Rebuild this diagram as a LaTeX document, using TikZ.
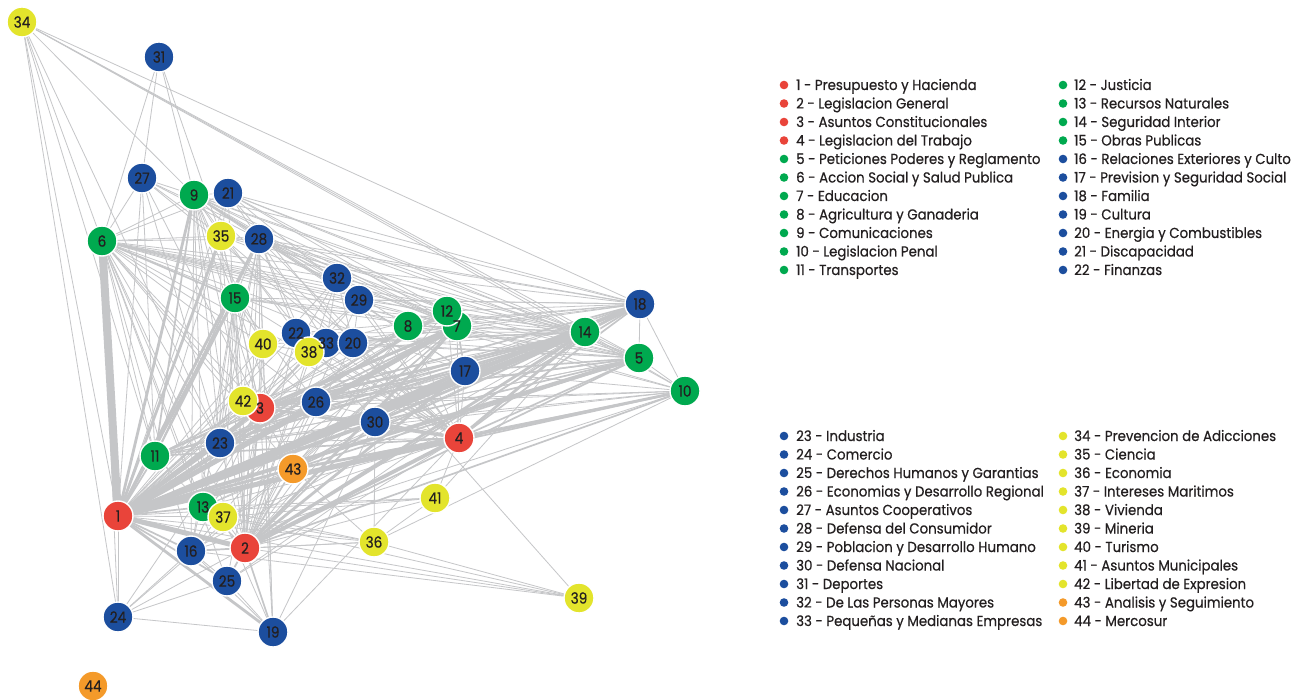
\documentclass[tikz,border=0pt]{standalone}
\usepackage{fontspec}
\setmainfont{Poppins}[FakeStretch=0.88, FakeBold=0.35]
\newfontfamily\legfont{Poppins}[FakeStretch=0.92, FakeBold=0.45]
\usetikzlibrary{backgrounds}

\definecolor{cred}{HTML}{E9443A}
\definecolor{cgreen}{HTML}{00A94F}
\definecolor{cblue}{HTML}{1C4E9E}
\definecolor{cyellow}{HTML}{E3E42C}
\definecolor{corange}{HTML}{F49A2A}
\definecolor{edgegray}{HTML}{C5C6C8}
\definecolor{ink}{HTML}{231F20}

\tikzset{
  vert/.style={circle, minimum size=30pt, inner sep=0pt, draw=white, line width=1.4pt},
  vlab/.style={text=ink, inner sep=0pt, font=\fontsize{15.5}{15.5}\selectfont},
  link/.style={draw=edgegray},
  ldot/.style={circle, minimum size=8.6pt, inner sep=0pt},
  ltxt/.style={text=ink, inner sep=0pt, anchor=base west, font=\legfont\fontsize{14.5}{14.5}\selectfont},
}

\begin{document}
\begin{tikzpicture}[x=1pt,y=-1pt]
\useasboundingbox (0,0) rectangle (1314,700);

% committee nodes (drawing order fixes the overlaps)
\foreach \i/\x/\y/\c in {
  1/118/516/cred, 2/245/548/cred, 3/260/408/cred, 4/459/438/cred,
  5/639/358/cgreen, 6/102/241/cgreen, 7/457/326/cgreen, 8/408/326/cgreen,
  9/194/195/cgreen, 10/685/391/cgreen, 11/155/456/cgreen, 12/447/311/cgreen,
  13/203/507/cgreen, 14/585/332/cgreen, 15/235/298/cgreen,
  16/191/551/cblue, 17/465/371/cblue, 18/640/304/cblue, 19/273/632/cblue,
  21/228/193/cblue, 22/296/333/cblue, 23/220/443/cblue, 24/118/617/cblue,
  25/227/581/cblue, 26/316/402/cblue, 27/142/178/cblue, 28/259/239/cblue,
  29/359/300/cblue, 30/375/422/cblue, 31/159/57/cblue, 32/337/278/cblue,
  33/326/343/cblue, 20/353/343/cblue,
  34/22/22/cyellow, 35/221/236/cyellow, 36/374/542/cyellow, 37/223/517/cyellow,
  38/309/352/cyellow, 39/579/598/cyellow, 40/263/344/cyellow, 41/435/498/cyellow,
  42/243/401/cyellow, 43/293/469/corange, 44/93/686/corange}
  \node[vert, fill=\c] (n\i) at (\x,\y) {};

% numbers on top of every circle
\foreach \i in {1,...,44}
  \node[vlab] (t\i) at (n\i) {\i};

% co-membership links, behind the circles
\begin{scope}[on background layer]
\fill[white] (0,0) rectangle (1314,700);
\foreach \a/\b in {
  1/20,1/21,1/22,1/24,1/27,1/29,1/32,1/33,1/34,1/36,1/37,1/38,1/39,1/40,1/41,
  2/6,2/8,2/9,2/11,2/12,2/13,2/15,2/20,2/21,2/22,2/23,2/24,2/26,2/28,2/29,2/32,2/33,2/35,2/36,2/37,2/38,2/39,2/40,2/41,2/42,
  3/6,3/9,3/10,3/11,3/13,3/15,3/16,3/19,3/20,3/22,3/23,3/24,3/25,3/27,3/28,3/29,3/30,3/32,3/33,3/35,3/38,3/40,3/42,3/43,
  4/6,4/7,4/8,4/9,4/12,4/13,4/15,4/17,4/19,4/20,4/22,4/23,4/25,4/26,4/27,4/28,4/29,4/32,4/33,4/35,4/37,4/38,4/40,4/41,4/42,
  5/6,5/7,5/8,5/9,5/10,5/11,5/12,5/14,5/15,5/18,5/20,5/21,5/22,5/23,5/26,5/28,5/33,5/34,
  6/7,6/8,6/9,6/10,6/11,6/12,6/13,6/14,6/16,6/17,6/18,6/19,6/20,6/21,6/23,6/24,6/25,6/26,6/27,6/28,6/29,6/31,6/32,6/34,6/35,6/40,6/42,6/43,
  7/8,7/9,7/10,7/12,7/13,7/14,7/15,7/16,7/18,7/20,7/21,7/24,7/27,7/28,7/29,7/30,7/32,7/33,7/35,7/43,
  8/9,8/11,8/12,8/14,8/18,8/23,8/43,
  9/12,9/13,9/14,9/15,9/16,9/17,9/18,9/21,9/22,9/23,9/27,9/28,9/29,9/31,9/32,9/34,9/35,9/40,9/42,
  10/14,10/16,10/17,10/18,10/23,10/26,10/30,10/34,10/36,10/43,
  11/12,11/17,11/18,11/23,11/27,11/30,11/34,11/35,
  12/14,12/18,12/21,12/23,12/28,12/33,
  13/14,13/15,13/36,13/37,13/41,13/43,
  14/15,14/16,14/20,14/21,14/22,14/25,14/28,14/29,14/32,14/33,14/34,14/35,14/38,14/40,14/41,14/42,
  15/16,15/18,15/23,15/26,15/28,15/35,15/37,15/40,15/42,15/43,
  16/19,16/24,16/25,16/26,16/28,16/36,16/39,
  17/18,17/23,17/26,17/28,17/30,17/43,
  18/20,18/21,18/22,18/23,18/28,18/29,18/34,18/35,
  19/24,19/25,19/28,19/30,19/40,
  20/21,20/29,20/32,20/33,20/39,
  21/28,21/29,21/35,22/28,22/33,
  23/26,23/27,23/28,23/30,23/34,23/35,
  24/25,24/34,27/28,27/31,27/35,
  28/29,28/32,28/33,28/35,28/38,28/40,28/42,
  29/32,30/35,30/36,31/35,32/33,33/38,
  36/37,36/39,36/41,36/43,37/39,37/41,38/40,40/42}
  \draw[link, line width=0.8pt] (n\a.center) -- (n\b.center);
\foreach \a/\b in {
  1/8,1/10,1/11,1/13,1/16,1/25,1/42,2/3,2/5,2/10,2/16,2/18,2/19,2/25,2/30,2/43,
  3/5,3/17,3/18,4/5,4/11,4/18,4/30,5/17,5/30,5/43,6/15,7/11,7/17,7/23,7/26,
  9/11,11/14,11/15,11/28,14/17,14/23,14/26,14/43}
  \draw[link, line width=1.7pt] (n\a.center) -- (n\b.center);
\foreach \a/\b in {
  1/9,1/12,1/15,1/19,1/23,1/26,1/28,1/35,1/43,2/7,2/14,2/17,3/4,3/7,3/14,
  4/10,4/14,4/43,14/30,14/18}
  \draw[link, line width=2.8pt] (n\a.center) -- (n\b.center);
\foreach \a/\b in {1/3,1/5,1/17,1/18,1/30,2/4}
  \draw[link, line width=3.8pt] (n\a.center) -- (n\b.center);
\foreach \a/\b in {1/2,1/4,1/7,1/14}
  \draw[link, line width=5pt] (n\a.center) -- (n\b.center);
\draw[link, line width=8pt] (n1.center) -- (n6.center);
\end{scope}

% legend, upper block
\foreach \i/\t/\c [count=\k from 0] in {
  1/Presupuesto y Hacienda/cred, 2/Legislacion General/cred,
  3/Asuntos Constitucionales/cred, 4/Legislacion del Trabajo/cred,
  5/Peticiones Poderes y Reglamento/cgreen, 6/Accion Social y Salud Publica/cgreen,
  7/Educacion/cgreen, 8/Agricultura y Ganaderia/cgreen, 9/Comunicaciones/cgreen,
  10/Legislacion Penal/cgreen, 11/Transportes/cgreen}
{
  \node[ldot, fill=\c] (d\i) at (784,85+18.5*\k) {};
  \node[ltxt] (e\i) at (796,90+18.5*\k) {\i{} - \t};
}
\foreach \i/\t/\c [count=\k from 0] in {
  12/Justicia/cgreen, 13/Recursos Naturales/cgreen, 14/Seguridad Interior/cgreen,
  15/Obras Publicas/cgreen, 16/Relaciones Exteriores y Culto/cblue,
  17/Prevision y Seguridad Social/cblue, 18/Familia/cblue, 19/Cultura/cblue,
  20/Energia y Combustibles/cblue, 21/Discapacidad/cblue, 22/Finanzas/cblue}
{
  \node[ldot, fill=\c] (d\i) at (1063,85+18.5*\k) {};
  \node[ltxt] (e\i) at (1074,90+18.5*\k) {\i{} - \t};
}

% legend, lower block
\foreach \i/\t/\c [count=\k from 0] in {
  23/Industria/cblue, 24/Comercio/cblue, 25/Derechos Humanos y Garantias/cblue,
  26/Economias y Desarrollo Regional/cblue, 27/Asuntos Cooperativos/cblue,
  28/Defensa del Consumidor/cblue, 29/Poblacion y Desarrollo Humano/cblue,
  30/Defensa Nacional/cblue, 31/Deportes/cblue, 32/De Las Personas Mayores/cblue,
  33/Pequeñas y Medianas Empresas/cblue}
{
  \node[ldot, fill=\c] (d\i) at (784,436+18.5*\k) {};
  \node[ltxt] (e\i) at (796,441+18.5*\k) {\i{} - \t};
}
\foreach \i/\t/\c [count=\k from 0] in {
  34/Prevencion de Adicciones/cyellow, 35/Ciencia/cyellow, 36/Economia/cyellow,
  37/Intereses Maritimos/cyellow, 38/Vivienda/cyellow, 39/Mineria/cyellow,
  40/Turismo/cyellow, 41/Asuntos Municipales/cyellow,
  42/Libertad de Expresion/cyellow, 43/Analisis y Seguimiento/corange,
  44/Mercosur/corange}
{
  \node[ldot, fill=\c] (d\i) at (1063,436+18.5*\k) {};
  \node[ltxt] (e\i) at (1074,441+18.5*\k) {\i{} - \t};
}
\end{tikzpicture}
\end{document}
